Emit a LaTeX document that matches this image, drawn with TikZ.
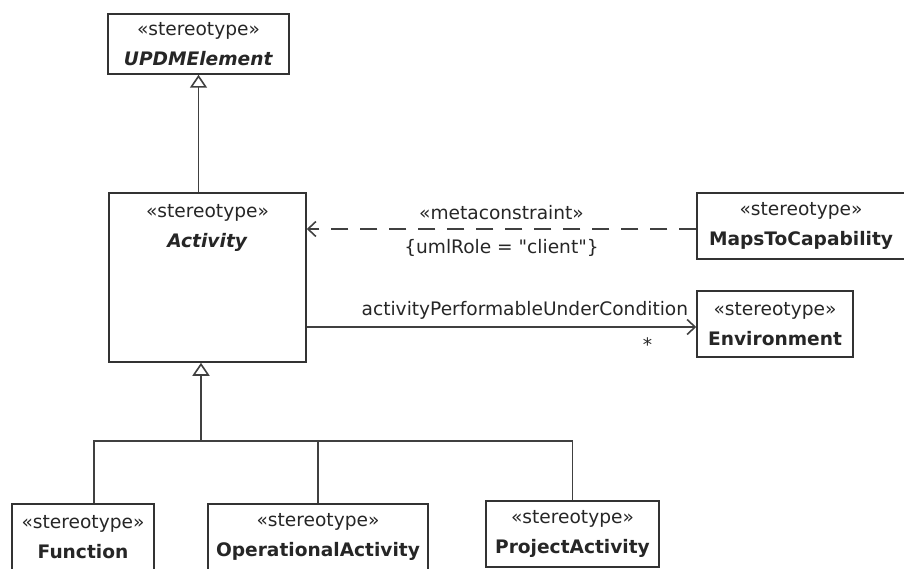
\documentclass[tikz,border=0pt]{standalone}
\usepackage{fontspec}
\setmainfont{DejaVu Sans}[Ligatures=TeXOff]
\usepackage{tikz}
\usetikzlibrary{arrows.meta, positioning}

\begin{document}
\begin{tikzpicture}[
            x=1pt, y=-1pt,
            classbox/.style={rectangle, draw=black!80, line width=1.5pt, fill=white, align=center, inner sep=0pt, text=black!85, font=\fontsize{18.6}{30}\selectfont},
            lbl/.style={text=black!85, inner sep=2pt, font=\fontsize{18.6}{30}\selectfont},
            link/.style={line width=1.6pt, draw=black!75},
            gen/.style={link, -{Triangle[open, length=13pt, width=17pt]}},
            assoc/.style={link, -{Straight Barb[length=8pt, width=15pt]}},
            dep/.style={assoc, dash pattern=on 17pt off 12pt}
        ]
            \useasboundingbox (0,0) rectangle (904,569);

            \node[classbox, minimum width=181pt, minimum height=60pt] (upd) at (198.5,44) {«stereotype»\\\textbf{\textit{UPDMElement}}};
            \node[classbox, minimum width=197pt, minimum height=169pt] (act) at (207.5,277.5) {};
            \node[lbl, align=center, below=10pt of act.north] (actname) {«stereotype»\\\textbf{\textit{Activity}}};
            \node[classbox, minimum width=208pt, minimum height=66pt] (maps) at (801,226) {«stereotype»\\\textbf{MapsToCapability}};
            \node[classbox, minimum width=156pt, minimum height=66pt] (env) at (775,324) {«stereotype»\\\textbf{Environment}};
            \node[classbox, minimum width=142pt, minimum height=66pt] (fn) at (83,537) {«stereotype»\\\textbf{Function}};
            \node[classbox, minimum width=220pt, minimum height=66pt] (opact) at (318,537) {«stereotype»\\\textbf{OperationalActivity}};
            \node[classbox, minimum width=173pt, minimum height=66pt] (proj) at (572.5,534) {«stereotype»\\\textbf{ProjectActivity}};

            \coordinate (fork) at (201,441);

            % generalizations
            \draw[gen] (upd.south |- act.north) -- (upd.south);
            \draw[gen] (fork) -- (fork |- act.south);
            \draw[link] ([xshift=11pt]fn.north) |- (fork) -| (proj.north);
            \draw[link] (opact.north) -- (opact.north |- fork);

            % metaconstraint and association
            \draw[dep] ([yshift=-3pt]maps.west) -- ([yshift=-3pt]maps.west -| act.east)
                node[lbl, midway, above=6pt] (meta) {«metaconstraint»}
                node[lbl, midway, below=8pt] (role) {\{umlRole = "client"\}};
            \draw[assoc] ([yshift=-3pt]act.east |- env.west) -- ([yshift=-3pt]env.west)
                node[lbl, pos=0.56, above=5pt] (apuc) {activityPerformableUnderCondition}
                node[lbl, pos=0.875, below=8pt] (mult) {*};
        \end{tikzpicture}
\end{document}
